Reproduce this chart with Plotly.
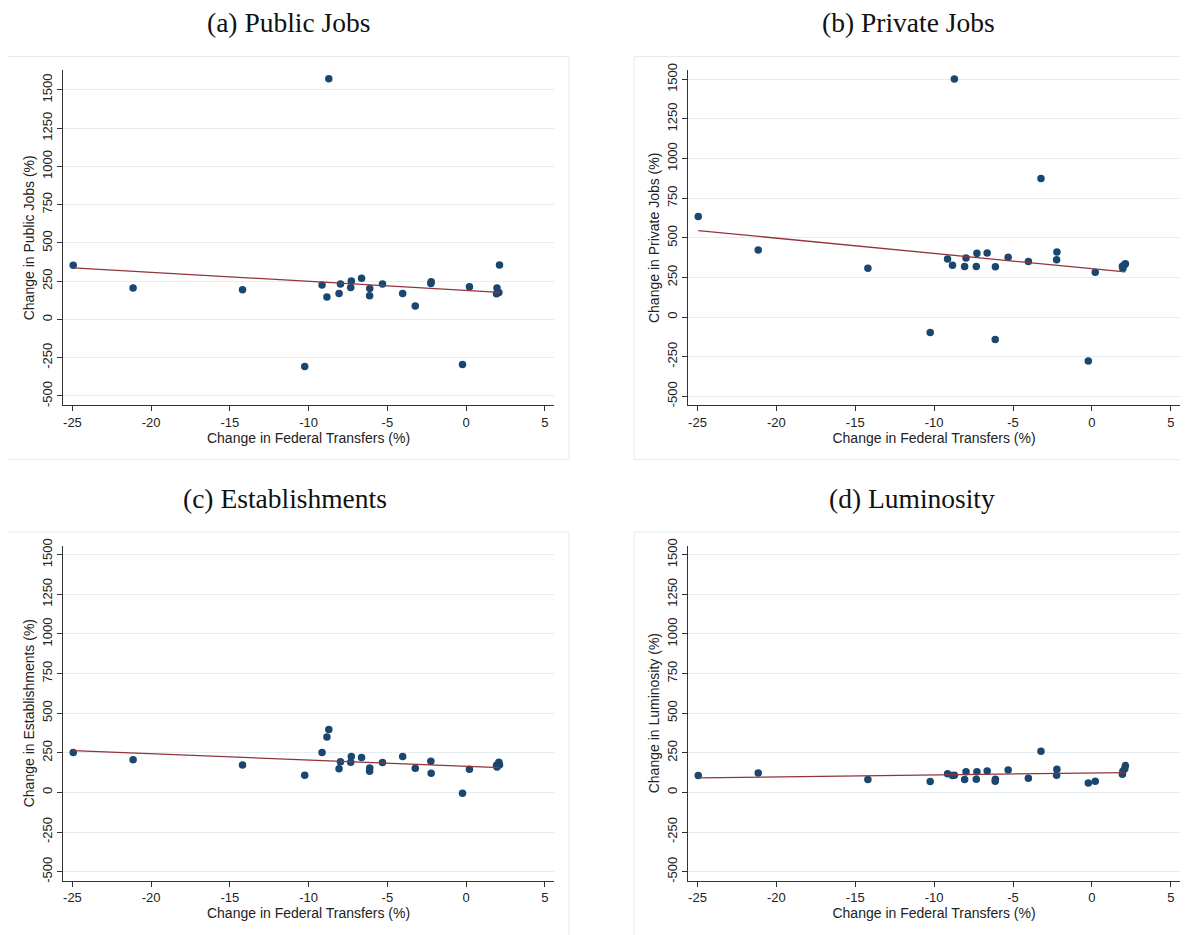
import numpy as np
import plotly.graph_objects as go

# change in federal transfers (%), same municipalities in every panel
transfers = [-24.95, -21.15, -14.2, -10.25, -9.15, -8.84, -8.72, -8.07, -7.98, -7.33,
             -7.29, -6.64, -6.12, -6.13, -5.31, -4.03, -3.23, -2.24, -2.22, -0.23,
             0.21, 1.93, 1.96, 2.08, 2.12]

public_jobs = [355, 205, 194, -308, 226, 147, 1573, 170, 231, 209,
               252, 269, 203, 155, 231, 170, 88, 235, 246, -295,
               213, 168, 205, 177, 356]

private_jobs = [635, 423, 308, -98, 367, 327, 1502, 319, 373, 319,
                402, 404, 317, -142, 377, 350, 875, 362, 410, -277,
                283, 320, 306, 331, 337]

establishments = [252, 206, 173, 108, 252, 350, 397, 150, 193, 191,
                  227, 220, 154, 133, 189, 227, 152, 196, 121, -6,
                  146, 171, 160, 191, 175]

luminosity = [106, 123, 81, 69, 117, 106, 108, 81, 131, 83,
              131, 135, 83, 71, 142, 90, 260, 108, 146, 60,
              71, 115, 133, 150, 169]

panel_titles = ["(a) Public Jobs", "(b) Private Jobs", "(c) Establishments", "(d) Luminosity"]
y_titles = ["Change in Public Jobs (%)", "Change in Private Jobs (%)",
            "Change in Establishments (%)", "Change in Luminosity (%)"]
x_title = "Change in Federal Transfers (%)"
y_ticks = [-500, -250, 0, 250, 500, 750, 1000, 1250, 1500]
x_ticks = [-25, -20, -15, -10, -5, 0, 5]

# page body has an 8px margin, so the figure is a bit smaller and everything is offset
OFF = 8
W, H = 1188 - OFF, 935 - OFF
NAVY = "#1a476f"
MAROON = "#90353b"

series = [public_jobs, private_jobs, establishments, luminosity]
# plot areas in screen pixels: (left, right, top, bottom)
areas = [(63, 554, 64, 402), (688, 1180, 64, 402), (63, 554, 544, 882), (688, 1180, 544, 882)]
yranges = [[-560, 1627], [-556, 1556], [-556, 1556], [-556, 1556]]
boxes = [(7, 569, 50, 457), (634, 1200, 50, 457), (7, 569, 530, 950), (634, 1200, 530, 950)]
title_pos = [(288, 16), (908, 16), (285, 496), (912, 496)]


def px(v, size):
    return (v - OFF) / size


fig = go.Figure()
x = np.array(transfers)
for i, ys in enumerate(series):
    n = "" if i == 0 else str(i + 1)
    fig.add_trace(go.Scatter(x=transfers, y=ys, mode="markers", xaxis="x" + n, yaxis="y" + n,
                             marker=dict(color=NAVY, size=7.5), showlegend=False))
    b, a = np.polyfit(x, np.array(ys), 1)
    xs = [x.min(), x.max()]
    fig.add_trace(go.Scatter(x=xs, y=[a + b * v for v in xs], mode="lines", xaxis="x" + n, yaxis="y" + n,
                             line=dict(color=MAROON, width=1.3), showlegend=False))

    l, r, t, btm = areas[i]
    fig.layout["xaxis" + n] = dict(
        domain=[px(l, W), min(px(r, W), 1)], anchor="y" + n, range=[-25.6, 5.58],
        tickvals=x_ticks, ticktext=[str(v) for v in x_ticks],
        showgrid=False, zeroline=False, showline=True, linecolor="#333", linewidth=1,
        ticks="outside", ticklen=5, tickcolor="#333", tickfont=dict(family="Liberation Sans", size=13, color="#222"),
        title=dict(text=x_title, font=dict(family="Liberation Sans", size=14, color="#222"), standoff=2))
    fig.layout["yaxis" + n] = dict(
        domain=[1 - px(btm, H), 1 - px(t, H)], anchor="x" + n, range=yranges[i],
        tickvals=y_ticks, ticktext=[str(v) for v in y_ticks],
        tickangle=-90, showgrid=True, gridcolor="#e6edef", gridwidth=1, zeroline=False,
        showline=True, linecolor="#333", linewidth=1, ticks="outside", ticklen=5, tickcolor="#333",
        tickfont=dict(family="Liberation Sans", size=13, color="#222"),
        title=dict(text=y_titles[i], font=dict(family="Liberation Sans", size=14, color="#222"), standoff=1))

    bl, br, bt, bb = boxes[i]
    fig.add_shape(type="rect", xref="paper", yref="paper", x0=px(bl, W), x1=px(br, W),
                  y0=1 - px(bb, H), y1=1 - px(bt, H),
                  line=dict(color="#e4eaea", width=1), layer="below")
    tx, ty = title_pos[i]
    fig.add_annotation(text=panel_titles[i], xref="paper", yref="paper", x=px(tx, W),
                       y=1 - px(ty, H), xanchor="center", yanchor="middle", showarrow=False,
                       font=dict(family="Liberation Serif", size=27.5, color="#111"))

fig.update_layout(width=W, height=H, margin=dict(l=0, r=0, t=0, b=0),
                  paper_bgcolor="white", plot_bgcolor="white")
fig.write_html("out.html")
